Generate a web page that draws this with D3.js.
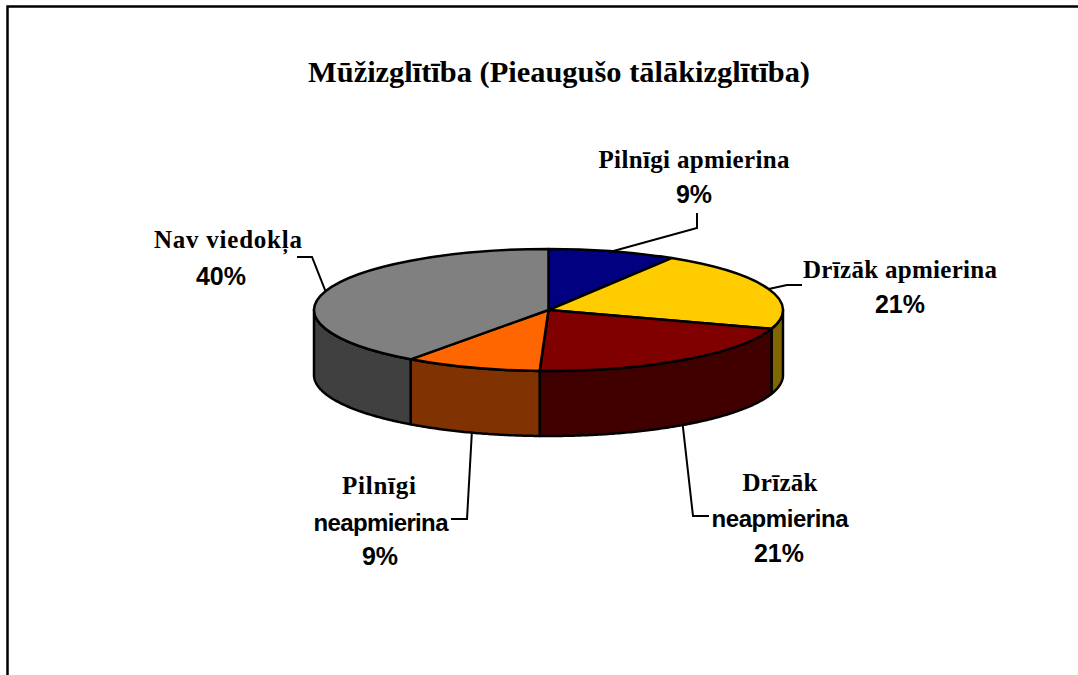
<!DOCTYPE html>
<html>
<head>
<meta charset="utf-8">
<script src="https://cdn.jsdelivr.net/npm/d3@7"></script>
<style>
  html, body { margin: 0; padding: 0; background: #fff; overflow: hidden; }
  text { fill: #000; font-weight: bold; }
  .serif { font-family: "Liberation Serif", serif; }
  .sans { font-family: "Liberation Sans", sans-serif; }
</style>
</head>
<body>
<div id="chart"></div>
<script>
const title = 'Mūžizglītība (Pieaugušo tālākizglītība)';
const categories = ['Pilnīgi apmierina', 'Drīzāk apmierina', 'Drīzāk neapmierina', 'Pilnīgi neapmierina', 'Nav viedokļa'];
const values = [8.8, 21.2, 20.6, 9.4, 40];
const topColors = ['#000080', '#ffcc00', '#800000', '#ff6600', '#808080'];
const sideColors = ['#000040', '#806600', '#400000', '#803300', '#404040'];

// label lines per slice: [text, font class, center x, baseline y, fitted width]
const labelLines = [
    [['Pilnīgi apmierina', 'serif', 694, 168, 191]],
    [['Drīzāk apmierina', 'serif', 900, 278, 194]],
    [['Drīzāk', 'serif', 780, 491, 75], ['neapmierina', 'sans', 780, 527, 137]],
    [['Pilnīgi', 'serif', 379, 494, 74], ['neapmierina', 'sans', 381, 531, 135]],
    [['Nav viedokļa', 'serif', 228, 248, 148]]
];
const percentPos = [[694, 203], [900, 313], [779, 562], [380, 565], [221, 285]];
// leader elbows, the start of each leader comes from the slice middle angle
const leaderBends = [
    [[697, 228], [697, 213]],
    [[787, 285], [802, 285]],
    [[693, 516], [709, 516]],
    [[467, 519], [451, 519]],
    [[312, 257], [297, 257]]
];

const width = 1078, height = 675;
const cx = 548.5, cy = 310, rx = 234.5, ry = 61, depth = 65;

const svg = d3.select('#chart').append('svg')
    .attr('width', width)
    .attr('height', height)
    .style('display', 'block');

const rimLine = d3.line();

// frame, only left and top are in the picture
svg.append('path')
    .attr('d', rimLine([[7.5, height], [7.5, 6.5], [width, 6.5]]))
    .attr('fill', 'none')
    .attr('stroke', '#000')
    .attr('stroke-width', 2.5);

svg.append('text')
    .attr('class', 'serif')
    .attr('x', 559).attr('y', 82)
    .attr('text-anchor', 'middle')
    .attr('font-size', 30)
    .attr('textLength', 502)
    .attr('lengthAdjust', 'spacingAndGlyphs')
    .text(title);

const arcs = d3.pie().sort(null)(values);
const px = a => cx + rx * Math.sin(a);
const py = a => cy - ry * Math.cos(a);

// outer wall, only the part facing us
arcs.forEach((d, i) => {
    const a0 = Math.max(d.startAngle, Math.PI / 2);
    const a1 = Math.min(d.endAngle, Math.PI * 1.5);
    if (a0 >= a1) return;
    const steps = d3.range(a0, a1, 0.01).concat([a1]);
    const rim = steps.map(a => [px(a), py(a)])
        .concat(steps.slice().reverse().map(a => [px(a), py(a) + depth]));
    svg.append('path')
        .attr('d', rimLine(rim) + 'Z')
        .attr('fill', sideColors[i])
        .attr('stroke', '#000')
        .attr('stroke-width', 2.5)
        .attr('stroke-linejoin', 'round');
});

// top face, circle arcs squashed into an ellipse
const arc = d3.arc().innerRadius(0).outerRadius(rx);
svg.append('g')
    .attr('transform', 'translate(' + cx + ',' + cy + ') scale(1,' + (ry / rx) + ')')
    .selectAll('path')
    .data(arcs)
    .join('path')
    .attr('d', arc)
    .attr('fill', (d, i) => topColors[i])
    .attr('stroke', '#000')
    .attr('stroke-width', 2.5)
    .attr('stroke-linejoin', 'round')
    .attr('vector-effect', 'non-scaling-stroke');

// leaders
arcs.forEach((d, i) => {
    const mid = (d.startAngle + d.endAngle) / 2;
    const front = mid > Math.PI / 2 && mid < Math.PI * 1.5;
    const start = [px(mid), py(mid) + (front ? depth : 0)];
    svg.append('path')
        .attr('d', rimLine([start].concat(leaderBends[i])))
        .attr('fill', 'none')
        .attr('stroke', '#000')
        .attr('stroke-width', 2);
});

// labels
labelLines.forEach((lines, i) => {
    lines.forEach(l => {
        svg.append('text')
            .attr('class', l[1])
            .attr('x', l[2]).attr('y', l[3])
            .attr('text-anchor', 'middle')
            .attr('font-size', l[1] === 'sans' ? 24 : 25)
            .attr('textLength', l[4])
            .attr('lengthAdjust', 'spacing')
            .text(l[0]);
    });
    svg.append('text')
        .attr('class', 'sans')
        .attr('x', percentPos[i][0]).attr('y', percentPos[i][1])
        .attr('text-anchor', 'middle')
        .attr('font-size', 25)
        .text(d3.format('.0f')(values[i]) + '%');
});
</script>
</body>
</html>
